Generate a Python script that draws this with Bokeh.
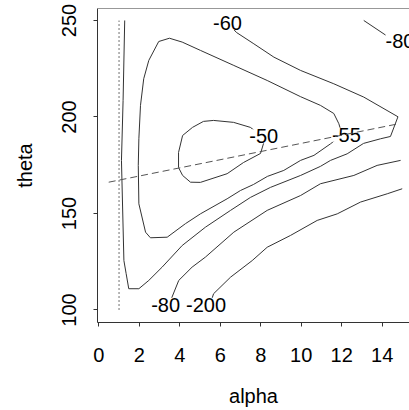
from bokeh.plotting import figure
from bokeh.embed import file_html
from bokeh.resources import INLINE
from bokeh.models import Range1d, FixedTicker, Span
from bokeh.core.properties import value

# ---- data (alpha, theta) ----
c50_alpha = [4.14, 4.63, 5.17, 5.67, 6.66, 7.49, 7.87, 8.14, 7.99, 7.15, 6.34, 5.02, 4.53, 4.14, 3.94, 3.94, 4.14]
c50_theta = [190.4, 194.6, 197.7, 198.2, 197.2, 194.6, 191.5, 186.3, 181.1, 176.4, 170.6, 166.1, 166.2, 169.7, 173.8, 181.6, 190.4]

c55_alpha = [1.95, 1.98, 2.06, 2.22, 2.47, 2.96, 3.49, 4.12, 5.02, 6.67, 8.32, 9.97, 10.95, 11.61, 11.86, 11.99,
             11.86, 11.45, 10.63, 9.97, 9.14, 8.33, 7.64, 7.00, 6.34, 5.02, 4.28, 3.38, 2.55, 2.31, 1.98, 1.95]
c55_theta = [174.9, 188.7, 206.0, 219.8, 229.3, 239.1, 240.8, 238.8, 234.5, 226.7, 218.9, 210.5, 206.0, 201.8, 196.5, 192.0,
             189.5, 186.1, 180.1, 177.5, 172.3, 169.2, 165.0, 161.9, 157.6, 149.8, 144.7, 137.7, 137.4, 140.3, 155.0, 174.9]

c60_alpha = [6.26, 6.80, 7.66, 8.65, 9.97, 11.61, 13.09, 14.78, 14.41, 13.92, 13.08, 12.27, 11.45, 10.95, 9.97, 8.48,
             7.49, 6.51, 5.27, 4.12, 3.13, 2.47, 1.98, 1.48, 1.35, 1.24, 1.12, 1.20, 1.28]
c60_theta = [250.0, 243.8, 237.9, 231.0, 224.1, 217.2, 210.3, 200.1, 189.9, 188.7, 186.3, 180.9, 177.5, 174.4, 169.7, 163.5,
             158.3, 151.6, 142.9, 133.4, 122.2, 115.3, 111.0, 111.0, 118.9, 125.6, 177.5, 208.5, 250.0]

c80_alpha = [3.40, 3.95, 4.61, 5.27, 6.67, 8.32, 9.97, 10.95, 12.60, 13.75, 14.91]
c80_theta = [101.0, 115.3, 122.2, 127.4, 140.3, 151.6, 159.3, 165.4, 169.7, 174.9, 177.5]

c80b_alpha = [13.09, 14.33, 15.30]
c80b_theta = [250.0, 241.3, 237.0]

c200_alpha = [5.42, 5.67, 6.51, 7.58, 8.32, 9.47, 10.79, 11.78, 12.93, 14.25, 14.99]
c200_theta = [100.3, 108.4, 117.0, 125.6, 132.5, 138.6, 146.4, 149.8, 155.9, 160.2, 162.8]

label_text = ["-60", "-80", "-50", "-55", "-80", "-200"]
label_alpha = [6.36, 14.88, 8.15, 12.23, 3.30, 5.30]
label_theta = [248.7, 239.6, 190.0, 190.8, 102.7, 102.7]

ref_alpha = [1.0, 1.0]
ref_theta = [100.0, 250.0]

dash_alpha = [0.49, 14.82]
dash_theta = [166.2, 196.5]

x_ticks = [0, 2, 4, 6, 8, 10, 12, 14]
y_ticks = [100, 150, 200, 250]

FONT = "Liberation Sans"

p = figure(frame_width=312, frame_height=314, output_backend="svg", toolbar_location=None,
           x_range=Range1d(-0.064, 15.35), y_range=Range1d(93.5, 256.2),
           min_border_left=97, min_border_right=0, min_border_top=8, min_border_bottom=0)
p.background_fill_color = "white"
p.border_fill_color = "white"
p.outline_line_color = None
p.grid.visible = False

line_col = "#333333"
for xs, ys in [(c50_alpha, c50_theta), (c55_alpha, c55_theta), (c60_alpha, c60_theta),
               (c80_alpha, c80_theta), (c80b_alpha, c80b_theta), (c200_alpha, c200_theta)]:
    p.line(xs, ys, line_color=line_col, line_width=1)

p.line(ref_alpha, ref_theta, line_color="#888888", line_width=1.2, line_dash="2 2")

p.text(x=label_alpha, y=label_theta, text=label_text, text_font=value(FONT), text_font_size="20px",
       text_align="center", text_baseline="middle", text_color="black",
       background_fill_color="white")

p.line(dash_alpha, dash_theta, line_color="#555555", line_width=1, line_dash="7 4")

p.add_layout(Span(location=256.2, dimension="width", line_color="#333333", line_width=1))

p.xaxis.ticker = FixedTicker(ticks=x_ticks)
p.yaxis.ticker = FixedTicker(ticks=y_ticks)
for ax in (p.xaxis, p.yaxis):
    ax.axis_line_color = "#333333"
    ax.major_tick_line_color = "#333333"
    ax.major_tick_out = 4
    ax.major_tick_in = 0
    ax.minor_tick_line_color = None
    ax.major_label_text_font = FONT
    ax.major_label_text_font_size = "20px"
    ax.major_label_text_color = "black"
    ax.axis_label_text_font = FONT
    ax.axis_label_text_font_size = "20px"
    ax.axis_label_text_font_style = "normal"
    ax.axis_label_text_color = "black"

p.xaxis.axis_label = "alpha"
p.yaxis.axis_label = "theta"
p.xaxis.major_label_standoff = 21
p.xaxis.axis_label_standoff = 20
p.yaxis.major_label_standoff = 17
p.yaxis.axis_label_standoff = 24
p.yaxis.major_label_orientation = "vertical"

open("out.html", "w").write(file_html(p, INLINE))
